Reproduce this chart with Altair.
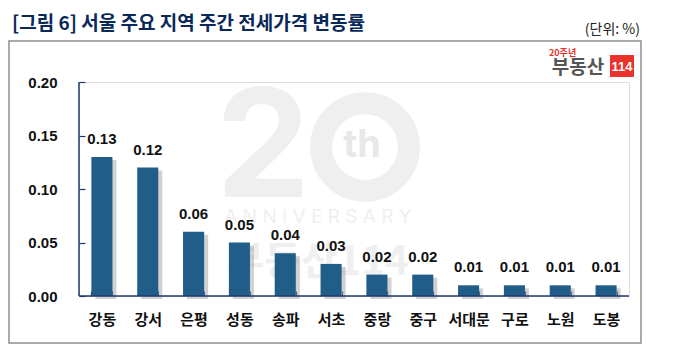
import altair as alt
import pandas as pd

regions = ["강동", "강서", "은평", "성동", "송파", "서초", "중랑", "중구", "서대문", "구로", "노원", "도봉"]
changes = [0.13, 0.12, 0.06, 0.05, 0.04, 0.03, 0.02, 0.02, 0.01, 0.01, 0.01, 0.01]
y_ticks = [0.0, 0.05, 0.10, 0.15, 0.20]

title_text = "[그림 6] 서울 주요 지역 주간 전세가격 변동률"
unit_text = "(단위: %)"

df = pd.DataFrame({"region": regions, "value": changes})
one = pd.DataFrame({"k": [0]})

KR = "Noto Sans CJK KR"
NAVY = "#1F3A6E"
BAR = "#215D89"
WM = "#EFEFEF"
W, H = 550, 214

xenc = alt.X("region:N", sort=regions,
             scale=alt.Scale(paddingInner=0.54, paddingOuter=0.27),
             axis=alt.Axis(title=None, labelAngle=0, domain=False, offset=-5, tickSize=5,
                           tickBand="extent", tickColor=NAVY, tickWidth=1.2,
                           labelFont=KR, labelFontSize=15, labelFontWeight="bold",
                           labelColor="#111111", labelPadding=16))
yenc = alt.Y("value:Q", scale=alt.Scale(domain=[0, 0.2], nice=False),
             axis=alt.Axis(title=None, values=y_ticks, format=".2f", grid=False, domain=False,
                           offset=-6, tickSize=6, tickColor=NAVY, tickWidth=1.2,
                           labelFont="Liberation Sans", labelFontSize=15, labelFontWeight="bold",
                           labelColor="#111111", labelPadding=22))

base = alt.Chart(one)

box = base.mark_rect(filled=False, stroke="#8F8F8F", strokeWidth=1.5).encode(
    x=alt.value(-70), x2=alt.value(562), y=alt.value(-41), y2=alt.value(261))

title = base.mark_text(text=title_text, font=KR, fontSize=19, fontWeight="bold",
                       color="#0A2858", align="left", baseline="middle").encode(
    x=alt.value(-67), y=alt.value(-58))
unit = base.mark_text(text=unit_text, font=KR, fontSize=14, color="#222222",
                      align="right", baseline="middle").encode(x=alt.value(561), y=alt.value(-52))

logo_box = base.mark_rect(fill="#E8322B").encode(
    x=alt.value(531), x2=alt.value(555), y=alt.value(-27), y2=alt.value(-5))
logo_114 = base.mark_text(text="114", font="Liberation Sans", fontSize=13, fontWeight="bold",
                          color="white", align="center", baseline="middle").encode(
    x=alt.value(543), y=alt.value(-15))
logo_name = base.mark_text(text="부동산", font=KR, fontSize=19, fontWeight="bold",
                           color="#555555", align="center", baseline="middle").encode(
    x=alt.value(499), y=alt.value(-14))
logo_20 = base.mark_text(text="20주년", font=KR, fontSize=9, fontWeight="bold",
                         color="#E8322B", align="left", baseline="middle").encode(
    x=alt.value(470), y=alt.value(-29))

wm_2 = base.mark_text(text="2", font="Inter", fontSize=150, fontWeight="bold", color=WM,
                      align="center", baseline="middle").encode(x=alt.value(184), y=alt.value(70))
wm_ring = base.mark_point(shape="circle", filled=False, size=7700, strokeWidth=22,
                          color=WM, opacity=1).encode(x=alt.value(286), y=alt.value(65))
wm_th = base.mark_text(text="th", font="Inter", fontSize=38, fontWeight="bold", color="#E8E8E8",
                       align="center", baseline="middle").encode(x=alt.value(283), y=alt.value(64))
wm_ann = base.mark_text(text="A N N I V E R S A R Y", font="Inter", fontSize=19, color=WM,
                        align="center", baseline="middle").encode(x=alt.value(239), y=alt.value(135))
wm_name = base.mark_text(text="부동산114", font=KR, fontSize=40, fontWeight="bold", color=WM,
                         align="center", baseline="middle").encode(x=alt.value(239), y=alt.value(181))

chart_base = alt.Chart(df).encode(x=xenc, y=yenc)
shadow = chart_base.mark_bar(color="#9A9A9A", opacity=0.45, xOffset=4, yOffset=3)
bars = chart_base.mark_bar(color=BAR)
labels = chart_base.mark_text(font="Liberation Sans", fontSize=15, fontWeight="bold",
                              color="#111111", baseline="bottom", dy=-10).encode(
    text=alt.Text("value:Q", format=".2f"))

axis_df = pd.DataFrame({"lo": [0.0], "hi": [0.2]})
y_line = alt.Chart(axis_df).mark_rule(color=NAVY, strokeWidth=1.5).encode(
    x=alt.value(0), y=alt.Y("hi:Q", scale=alt.Scale(domain=[0, 0.2], nice=False)), y2="lo:Q")
x_line = alt.Chart(axis_df).mark_rule(color=NAVY, strokeWidth=1.5).encode(
    y=alt.Y("lo:Q", scale=alt.Scale(domain=[0, 0.2], nice=False)), x=alt.value(0), x2=alt.value(W))

chart = alt.layer(
    box, wm_2, wm_ring, wm_th, wm_ann, wm_name,
    shadow, bars, labels, y_line, x_line,
    title, unit, logo_box, logo_114, logo_name, logo_20,
).properties(
    width=W, height=H,
    autosize=alt.AutoSizeParams(type="none"),
    padding={"left": 71, "top": 74, "right": 54, "bottom": 58},
).configure_view(stroke=None).configure(background="white")

chart.save("out.html", embed_options={"renderer": "svg", "actions": False})
